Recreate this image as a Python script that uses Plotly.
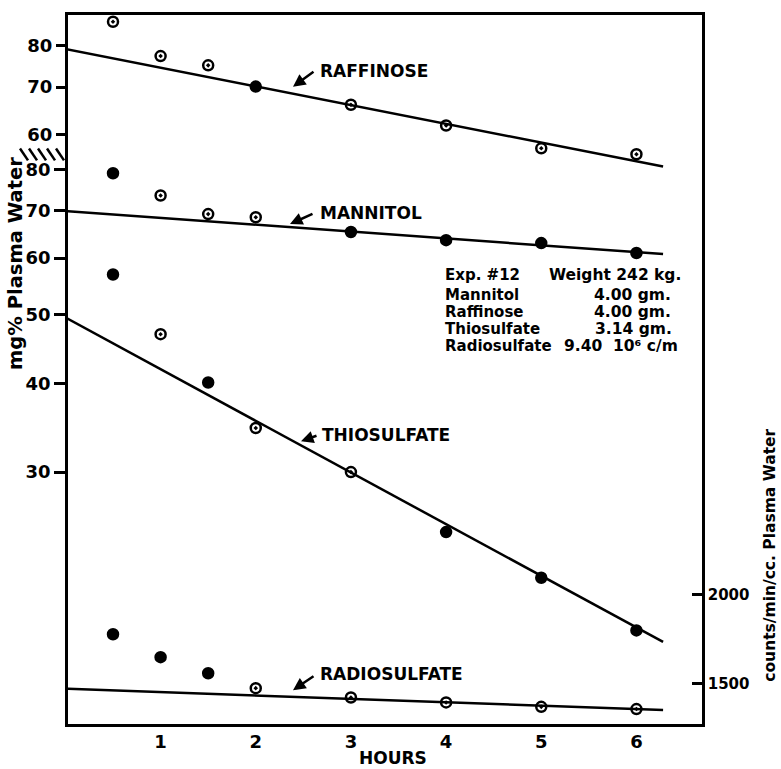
import plotly.graph_objects as go

# ---------------- data ----------------
hours = [0.5, 1, 1.5, 2, 3, 4, 5, 6]

raffinose = [86.5, 77.4, 75.1, 70.1, 66.1, 61.8, 57.4, 56.3]          # mg% (upper broken scale)
mannitol = [79.0, 73.5, 69.2, 68.5, 65.3, 63.6, 63.0, 61.0]            # mg%
thiosulfate = [56.9, 46.9, 40.1, 34.6, 30.0, 24.7, 21.3, 17.96]        # mg%
radiosulfate = [1760, 1634, 1551, 1478, 1434, 1411, 1391, 1381]        # counts/min/cc

fit_x = [0, 6.28]
raffinose_fit = [79.2, 54.1]
mannitol_fit = [69.9, 60.8]
thiosulfate_fit = [49.5, 17.3]
radiosulfate_fit = [1475, 1377]

x_ticks = [1, 2, 3, 4, 5, 6]
left_ticks = [30, 40, 50, 60, 70, 80]
upper_ticks = [60, 70, 80]
right_ticks = [1500, 2000]

# ---------------- style ----------------
W, H = 781, 769
L, R, T, B = 68, 702, 12, 724
FONT = "DejaVu Sans"
OD = "circle-open-dot"
C = "circle"
raff_sym = [OD, OD, OD, C, OD, OD, OD, OD]
mann_sym = [C, OD, OD, OD, C, C, C, C]
thio_sym = [C, OD, C, OD, OD, C, C, C]
radio_sym = [C, C, C, OD, OD, OD, OD, OD]


def pp(px, py):
    return (px - L) / (R - L), (B - py) / (B - T)


def markers(sym):
    return dict(symbol=sym, size=10, color="black", line=dict(color="black", width=2.5))


fig = go.Figure()

series = [
    (raffinose, raffinose_fit, raff_sym, "y2"),
    (mannitol, mannitol_fit, mann_sym, "y"),
    (thiosulfate, thiosulfate_fit, thio_sym, "y"),
    (radiosulfate, radiosulfate_fit, radio_sym, "y3"),
]
for vals, fit, sym, ax in series:
    fig.add_trace(go.Scatter(x=fit_x, y=fit, mode="lines", yaxis=ax,
                             line=dict(color="black", width=2.5), showlegend=False,
                             hoverinfo="skip"))
    fig.add_trace(go.Scatter(x=hours, y=vals, mode="markers", yaxis=ax,
                             marker=markers(sym), showlegend=False))

axis_common = dict(showgrid=False, zeroline=False, linecolor="black", linewidth=2.5,
                   tickcolor="black", tickwidth=2.5,
                   tickfont=dict(family=FONT, size=18, color="black", weight="bold"))

fig.update_layout(
    width=W, height=H,
    margin=dict(l=L, r=W - R, t=T, b=H - B),
    paper_bgcolor="white", plot_bgcolor="white",
    xaxis=dict(range=[0.027, 6.689], tickvals=x_ticks, ticks="", showline=True,
               mirror=True, **axis_common),
    yaxis=dict(type="log", range=[1.1226, 2.1203], tickvals=left_ticks,
               ticktext=[str(v) for v in left_ticks], ticks="outside", ticklen=11,
               showline=True, **axis_common),
    yaxis2=dict(type="log", range=[0.9488, 1.9465], tickvals=upper_ticks,
                ticktext=[str(v) for v in upper_ticks], ticks="outside", ticklen=11,
                overlaying="y", side="left", showline=False, **axis_common),
    yaxis3=dict(type="log", range=[3.1192, 4.1170], tickvals=right_ticks,
                ticktext=[str(v) for v in right_ticks], ticks="inside", ticklen=10,
                overlaying="y", side="right", showline=True,
                **{**axis_common, "tickfont": dict(family=FONT, size=15, color="black", weight="bold")}),
)

ann = []


def text(px, py, s, size=17, xanchor="left", angle=0):
    x, y = pp(px, py)
    ann.append(dict(x=x, y=y, xref="paper", yref="paper", text=s, showarrow=False,
                    xanchor=xanchor, yanchor="middle", textangle=angle,
                    font=dict(family=FONT, size=size, color="black", weight="bold")))


def arrow(tip, tail):
    x, y = pp(*tip)
    ann.append(dict(x=x, y=y, xref="paper", yref="paper", text="", showarrow=True,
                    ax=tail[0] - tip[0], ay=tail[1] - tip[1], arrowhead=2,
                    arrowsize=1, arrowwidth=2.5, arrowcolor="black"))


text(318, 68, "RAFFINOSE")
arrow((293, 84), (315, 68))
text(318, 211, "MANNITOL")
arrow((290, 222), (314, 211))
text(320, 434, "THIOSULFATE")
arrow((301, 440), (318, 434))
text(318, 674, "RADIOSULFATE")
arrow((293, 690), (315, 675))

rows = [
    (273, "Exp. #12", "Weight 242 kg.", 547),
    (293, "Mannitol", "4.00 gm.", 592),
    (310, "Raffinose", "4.00 gm.", 592),
    (327, "Thiosulfate", "3.14 gm.", 593),
    (344, "Radiosulfate", "9.40  10⁶ c/m", 562),
]
for py, a, b, bx in rows:
    text(443, py, a, size=15)
    text(bx, py, b, size=15.5)

text(393, 758, "HOURS", size=17, xanchor="center")
text(16, 262, "mg% Plasma Water", size=19.5, xanchor="center", angle=-90)
text(770, 555, "counts/min/cc. Plasma Water", size=15.5, xanchor="center", angle=-90)

fig.update_layout(annotations=ann)

# axis break hatch marks
shapes = []
for x0 in [20, 29, 38, 47, 56]:
    a = pp(x0, 146)
    b = pp(x0 + 8, 158)
    shapes.append(dict(type="line", xref="paper", yref="paper", x0=a[0], y0=a[1],
                       x1=b[0], y1=b[1], line=dict(color="black", width=2.5)))
fig.update_layout(shapes=shapes)

fig.write_html("out.html", config={"displayModeBar": False},
               post_script="document.body.style.margin='0';document.body.style.overflow='hidden';")
